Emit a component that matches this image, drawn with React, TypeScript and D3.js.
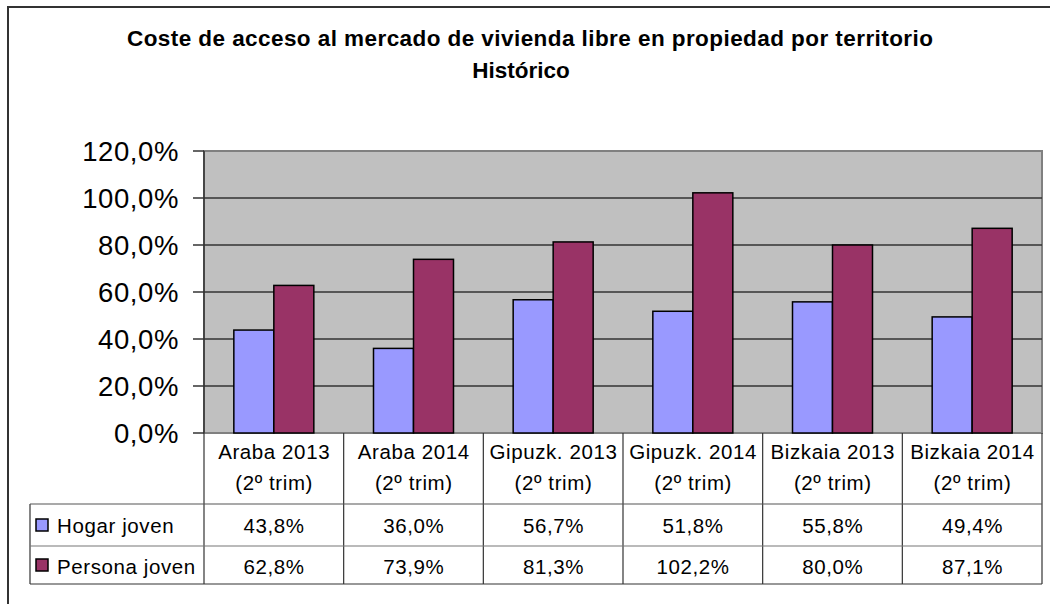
import React from 'react'
import * as d3 from 'd3'

const categories = ['Araba 2013', 'Araba 2014', 'Gipuzk. 2013', 'Gipuzk. 2014', 'Bizkaia 2013', 'Bizkaia 2014']
const subLabel = '(2º trim)'
const seriesNames = ['Hogar joven', 'Persona joven']
const hogar = [43.8, 36.0, 56.7, 51.8, 55.8, 49.4]
const persona = [62.8, 73.9, 81.3, 102.2, 80.0, 87.1]
const yTicks = [0, 20, 40, 60, 80, 100, 120]
const colors = ['#9999FF', '#993366']

const fmt = (v: number) => v.toFixed(1).replace('.', ',') + '%'

const App = () => {
  const W = 1050, H = 604
  const left = 204, right = 1042, top = 151, bottom = 433
  const font = 'Arial, "Liberation Sans", sans-serif'

  const x = d3.scaleBand().domain(categories).range([left, right]).padding(0)
  const bw = x.bandwidth()
  const xs = d3.scaleBand().domain(seriesNames).range([0, bw]).paddingInner(0).paddingOuter(0.746)
  const y = d3.scaleLinear().domain([0, 120]).range([bottom, top])

  const series = [hogar, persona]

  const rowTop = 504, rowMid = 546, rowBot = 584, legendLeft = 30
  const fs = 20.5
  const ls = 0.6 // small text looks a bit wider in the original

  return (
    <div style={{ position: 'absolute', left: 0, top: 0 }}>
      <svg width={W} height={H} style={{ display: 'block', fontFamily: font }}>
        <rect x={0} y={0} width={W} height={H} fill="#fff" />
        {/* outer frame */}
        <rect x={8} y={7} width={1100} height={700} fill="none" stroke="#333" strokeWidth={2} />

        {/* title */}
        <text x={530} y={46} textAnchor="middle" fontWeight="bold" fontSize={22.5} textLength={806} lengthAdjust="spacing">
          Coste de acceso al mercado de vivienda libre en propiedad por territorio
        </text>
        <text x={521} y={78} textAnchor="middle" fontWeight="bold" fontSize={22.5}>
          Histórico
        </text>

        {/* plot area */}
        <rect x={left} y={top} width={right - left} height={bottom - top} fill="#C0C0C0" stroke="#808080" strokeWidth={2} />
        {yTicks.filter(t => t > 0 && t < 120).map(t => (
          <line key={t} x1={left} x2={right} y1={y(t)} y2={y(t)} stroke="#333" strokeWidth={1.5} />
        ))}

        {/* bars */}
        {series.map((vals, si) =>
          vals.map((v, i) => (
            <rect key={si + '-' + i}
              x={(x(categories[i]) as number) + (xs(seriesNames[si]) as number)}
              y={y(v)}
              width={xs.bandwidth()}
              height={y(0) - y(v)}
              fill={colors[si]} stroke="#000" strokeWidth={1.5} />
          ))
        )}

        {/* y axis */}
        <line x1={left} x2={left} y1={top} y2={bottom} stroke="#333" strokeWidth={1.5} />
        {yTicks.map(t => (
          <g key={t}>
            <line x1={left - 11} x2={left} y1={y(t)} y2={y(t)} stroke="#333" strokeWidth={1.5} />
            <text x={179} y={y(t)} dy="0.35em" textAnchor="end" fontSize={27.5} letterSpacing={0.6}>{fmt(t)}</text>
          </g>
        ))}

        {/* data table */}
        {categories.map((c, i) => {
          const cx = (x(c) as number) + bw / 2 + ls / 2
          return (
            <g key={c} fontSize={fs} letterSpacing={ls}>
              <text x={cx} y={459} textAnchor="middle">{c}</text>
              <text x={cx} y={490} textAnchor="middle">{subLabel}</text>
              <text x={cx} y={533} textAnchor="middle">{fmt(hogar[i])}</text>
              <text x={cx} y={574} textAnchor="middle">{fmt(persona[i])}</text>
            </g>
          )
        })}
        {categories.map((c, i) => i > 0 && (
          <line key={'v' + c} x1={x(c)} x2={x(c)} y1={bottom} y2={rowBot} stroke="#333" strokeWidth={1.2} />
        ))}
        <line x1={left} x2={left} y1={bottom} y2={rowBot} stroke="#333" strokeWidth={1.2} />
        <line x1={right} x2={right} y1={bottom} y2={rowBot} stroke="#333" strokeWidth={1.2} />
        <line x1={legendLeft} x2={legendLeft} y1={rowTop} y2={rowBot} stroke="#333" strokeWidth={1.2} />
        <line x1={legendLeft} x2={right} y1={rowTop} y2={rowTop} stroke="#555" strokeWidth={1.2} />
        <line x1={legendLeft} x2={right} y1={rowMid} y2={rowMid} stroke="#777" strokeWidth={1.2} />
        <line x1={legendLeft} x2={right} y1={rowBot} y2={rowBot} stroke="#333" strokeWidth={1.2} />
        {seriesNames.map((s, si) => {
          const cy = si === 0 ? (rowTop + rowMid) / 2 : (rowMid + rowBot) / 2
          return (
            <g key={s}>
              <rect x={36} y={cy - 6} width={12} height={12} fill={colors[si]} stroke="#000" strokeWidth={1.5} />
              <text x={57} y={si === 0 ? 533 : 574} fontSize={fs} letterSpacing={ls}>{s}</text>
            </g>
          )
        })}
      </svg>
    </div>
  )
}

export default App
